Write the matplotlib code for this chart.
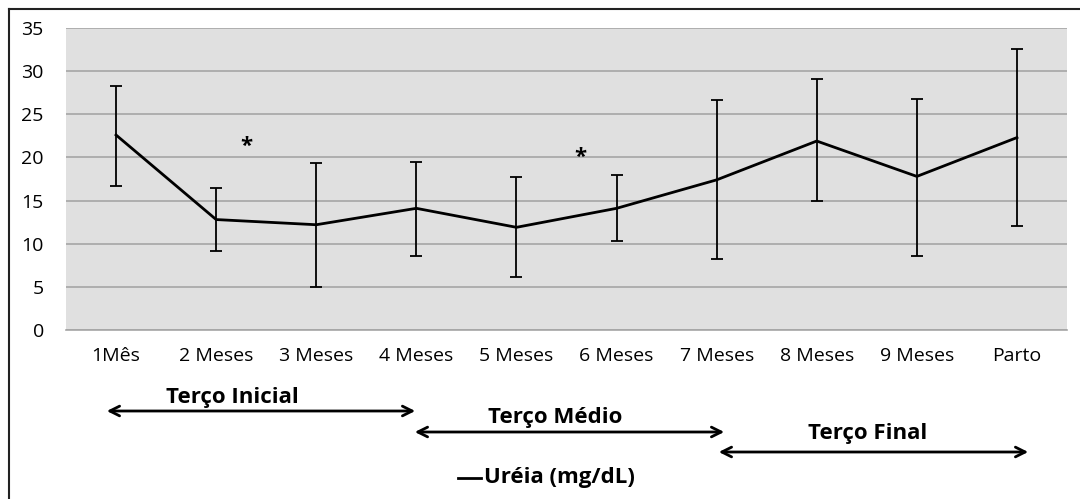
import matplotlib
matplotlib.use("Agg")
import matplotlib.pyplot as plt
from matplotlib.patches import FancyArrowPatch
from matplotlib.lines import Line2D

plt.rcParams['font.family'] = ['Open Sans', 'DejaVu Sans']

categories = ["1Mês", "2 Meses", "3 Meses", "4 Meses", "5 Meses", "6 Meses",
              "7 Meses", "8 Meses", "9 Meses", "Parto"]
means = [22.6, 12.8, 12.2, 14.1, 11.9, 14.1, 17.4, 21.9, 17.8, 22.3]
upper = [28.3, 16.4, 19.3, 19.5, 17.7, 18.0, 26.7, 29.1, 26.8, 32.6]
lower = [16.7, 9.2, 5.0, 8.6, 6.1, 10.3, 8.2, 15.0, 8.6, 12.1]
yticks = [0, 5, 10, 15, 20, 25, 30, 35]
series_label = "Uréia (mg/dL)"
star_pos = [(1.3, 21.3), (4.64, 20.0)]
period_labels = ["Terço Inicial", "Terço Médio", "Terço Final"]

W, H = 1080, 499
fig = plt.figure(figsize=(W / 100, H / 100), dpi=100)
ax = fig.add_axes([66 / W, 1 - 330 / H, (1067 - 66) / W, (330 - 28) / H])
ax.set_facecolor("#E0E0E0")

x = list(range(len(categories)))
err_lo = [m - l for m, l in zip(means, lower)]
err_hi = [u - m for m, u in zip(means, upper)]
ax.errorbar(x, means, yerr=[err_lo, err_hi], fmt='none', ecolor='black',
            elinewidth=1.3, capsize=4, capthick=1.3, zorder=3)
ax.plot(x, means, color='black', lw=2.0, zorder=4)

ax.set_xlim(-0.5, len(categories) - 0.5)
ax.set_ylim(0, 35)
ax.set_yticks(yticks)
ax.set_xticks(x)
ax.set_xticklabels(categories)
ax.yaxis.grid(True, color='#A6A6A6', lw=1.2)
ax.set_axisbelow(True)
for s in ax.spines.values():
    s.set_visible(False)
ax.tick_params(length=0, labelsize=14, colors='black')
ax.tick_params(axis='y', pad=16)
ax.tick_params(axis='x', pad=12)
ax.axhline(0, color='#A6A6A6', lw=1.2, clip_on=False)

for sx, sy in star_pos:
    ax.text(sx, sy, "*", ha='center', va='center', fontsize=16, fontweight='bold')

def fp(px, py):
    return (px / W, 1 - py / H)

# figure border (left and top edges visible)
fig.add_artist(Line2D([9 / W, 9 / W], [0, 1 - 9 / H], transform=fig.transFigure,
                      color='#222222', lw=1.5))
fig.add_artist(Line2D([9 / W, 1], [1 - 9 / H, 1 - 9 / H], transform=fig.transFigure,
                      color='#222222', lw=1.5))

arrow_px = [((104, 411), (418, 411), (232, 397)),
            ((412, 432), (727, 432), (555, 418)),
            ((716, 452), (1031, 452), (868, 433))]
for label, (a, b, tp) in zip(period_labels, arrow_px):
    fig.add_artist(FancyArrowPatch(
        fp(*a), fp(*b), transform=fig.transFigure,
        arrowstyle='<->,head_length=7,head_width=3.5', color='black', lw=2.0))
    fig.text(*fp(*tp), label, ha='center', va='center', fontsize=16,
             fontweight='bold')

fig.add_artist(Line2D([458 / W, 481 / W], [1 - 478 / H, 1 - 478 / H],
                      transform=fig.transFigure, color='black', lw=2))
fig.text(484 / W, 1 - 478 / H, series_label, ha='left', va='center',
         fontsize=16, fontweight='bold')

fig.savefig("out.png", dpi=100)
